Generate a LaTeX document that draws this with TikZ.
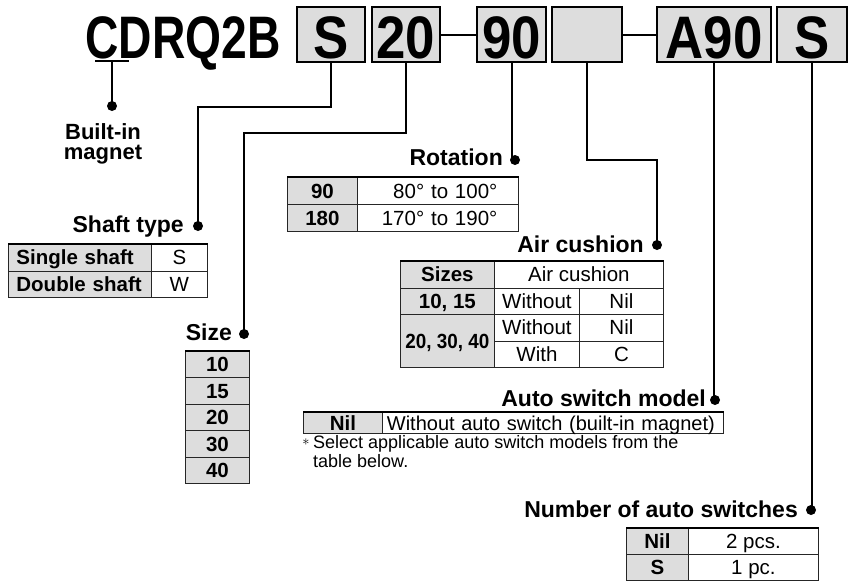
\documentclass[tikz,border=0pt]{standalone}
\usepackage{fontspec}
\setmainfont{Liberation Sans}
\usepackage{graphicx}
\definecolor{boxgray}{RGB}{221,221,221}

\begin{document}
\begin{tikzpicture}[x=1pt, y=-1pt,
  codebox/.style={draw, line width=2pt, fill=boxgray, minimum height=55, inner sep=0pt,
    text height=47pt, text depth=0pt, font=\fontsize{60}{60}\selectfont\bfseries},
  lbl/.style={inner sep=0pt, font=\fontsize{23}{23}\selectfont\bfseries},
  cell/.style={draw=black!85, line width=0.8pt, inner sep=0pt, anchor=north west,
    text height=14.5pt, text depth=0pt, minimum height=26.5, font=\fontsize{20.5}{20.5}\selectfont},
  hcell/.style={cell, fill=boxgray, font=\fontsize{20.5}{20.5}\selectfont\bfseries},
  conn/.style={line width=2pt}]
\useasboundingbox (0,0) rectangle (853,582);

% Código
\node[inner sep=0pt, anchor=base, font=\fontsize{60}{60}\selectfont\bfseries] (title) at (183,58) {\scalebox{0.77}[1]{CDRQ2B}};
\node[codebox, minimum width=68] (bxS) at (331,34.5) {\scalebox{0.88}[1]{S}};
\node[codebox, minimum width=68] (bx20) at (406,34.5) {\scalebox{0.88}[1]{20}};
\node[codebox, minimum width=69] (bx90) at (511.5,34.5) {\scalebox{0.88}[1]{90}};
\node[codebox, minimum width=70] (bxE) at (587,34.5) {};
\node[codebox, minimum width=114] (bxA) at (714,34.5) {\scalebox{0.88}[1]{A90}};
\node[codebox, minimum width=70] (bxN) at (812,34.5) {\scalebox{0.88}[1]{S}};
\draw[conn] (bx20.east) -- (bx90.west);
\draw[conn] (bxE.east) -- (bxA.west);

% Puntos
\coordinate (ulL) at (95,61);
\coordinate (ulR) at (129,61);
\coordinate (ulD) at (112,61);
\coordinate (dMag) at (112,106);
\coordinate (dShaft) at (198,226);
\coordinate (dSize) at (244,334);
\coordinate (dRot) at (515,160);
\coordinate (dAir) at (657,245);
\coordinate (dAuto) at (715,400);
\coordinate (dNum) at (811,510);

% Líneas
\draw[conn] (ulL) -- (ulR);
\draw[conn] (ulD) -- (dMag);
\draw[conn] (bxS.south) -- ++(0,44) -| (dShaft);
\draw[conn] (bx20.south) -- ++(0,70) -| (dSize);
\draw[conn] (bx90.south) |- (dRot);
\draw[conn] (bxE.south) -- ++(0,97) -| (dAir);
\draw[conn] (bxA.south) |- (dAuto);
\draw[conn] (bxN.south) |- (dNum);
\foreach \d in {dMag,dShaft,dSize,dRot,dAir,dAuto,dNum}
  \fill (\d) circle (5pt);

% Etiquetas
\node[lbl, anchor=north, align=center, font=\fontsize{22}{20}\selectfont\bfseries] (lMag) at (103,123) {Built-in\\magnet};
\node[lbl, anchor=base east] (lShaft) at (184,232) {Shaft type};
\node[lbl, anchor=base east] (lSize) at (232,340) {Size};
\node[lbl, anchor=base east] (lRot) at (503,165) {Rotation};
\node[lbl, anchor=base east] (lAir) at (644,252) {Air cushion};
\node[lbl, anchor=base east] (lAuto) at (706,406) {Auto switch model};
\node[lbl, anchor=base east] (lNum) at (798,517) {Number of auto switches};

% Tabla eje
\node[hcell, text width=127, inner xsep=8, align=left] (sh1) at (8,244) {Single shaft};
\node[cell, minimum width=56] (sh1v) at (151,244) {S};
\node[hcell, text width=127, inner xsep=8, align=left] (sh2) at (8,270.5) {Double shaft};
\node[cell, minimum width=56] (sh2v) at (151,270.5) {W};
\draw[line width=1.6pt] (sh1.north west) -- (sh1v.north east);

% Tabla rotación
\node[hcell, minimum width=70, minimum height=27] (ro1) at (287,177) {90};
\node[cell, minimum height=27, text width=119, inner xsep=21, align=right] (ro1v) at (357,177) {80° to 100°};
\node[hcell, minimum width=70, minimum height=27] (ro2) at (287,204) {180};
\node[cell, minimum height=27, text width=119, inner xsep=21, align=right] (ro2v) at (357,204) {170° to 190°};
\draw[line width=1.6pt] (ro1.north west) -- (ro1v.north east);

% Tabla amortiguación
\node[hcell, minimum width=94] (ai1) at (400,261) {Sizes};
\node[cell, minimum width=169] (ai1v) at (494,261) {Air cushion};
\node[hcell, minimum width=94] (ai2) at (400,287.5) {10, 15};
\node[cell, minimum width=85] (ai2a) at (494,287.5) {Without};
\node[cell, minimum width=84] (ai2b) at (579,287.5) {Nil};
\node[hcell, minimum width=94, minimum height=53] (ai3) at (400,314) {\scalebox{0.92}[1]{20, 30, 40}};
\node[cell, minimum width=85] (ai3a) at (494,314) {Without};
\node[cell, minimum width=84] (ai3b) at (579,314) {Nil};
\node[cell, minimum width=85] (ai4a) at (494,340.5) {With};
\node[cell, minimum width=84] (ai4b) at (579,340.5) {C};
\draw[line width=1.6pt] (ai1.north west) -- (ai1v.north east);

% Tabla tamaño
\node[hcell, minimum width=64, minimum height=26.4] (sz1) at (185,351) {10};
\node[hcell, minimum width=64, minimum height=26.4] (sz2) at (185,377.4) {15};
\node[hcell, minimum width=64, minimum height=26.4] (sz3) at (185,403.8) {20};
\node[hcell, minimum width=64, minimum height=26.4] (sz4) at (185,430.2) {30};
\node[hcell, minimum width=64, minimum height=26.4] (sz5) at (185,456.6) {40};
\draw[line width=1.6pt] (sz1.north west) -- (sz1.north east);

% Tabla detector
\node[hcell, minimum width=79, minimum height=21] (au1) at (303,412) {Nil};
\node[cell, minimum height=21, text width=336, inner xsep=2.5, align=left, font=\fontsize{20}{20}\selectfont] (au1v) at (382,412) {\mbox{\hspace{2pt}Without auto switch (built-in magnet)}};
\draw[line width=1.6pt] (au1.north west) -- (au1v.north east);
\node[inner sep=0pt, font=\fontsize{14}{14}\selectfont] (ast) at (306,442) {$\ast$};
\node[inner sep=0pt, anchor=north west, align=left, font=\fontsize{18}{19}\selectfont] (note) at (313,435) {Select applicable auto switch models from the\\table below.};

% Tabla número
\node[hcell, minimum width=62, minimum height=26] (nu1) at (626,528) {Nil};
\node[cell, minimum width=130, minimum height=26] (nu1v) at (688,528) {2 pcs.};
\node[hcell, minimum width=62, minimum height=26] (nu2) at (626,554) {S};
\node[cell, minimum width=130, minimum height=26] (nu2v) at (688,554) {1 pc.};
\draw[line width=1.6pt] (nu1.north west) -- (nu1v.north east);
\end{tikzpicture}
\end{document}
